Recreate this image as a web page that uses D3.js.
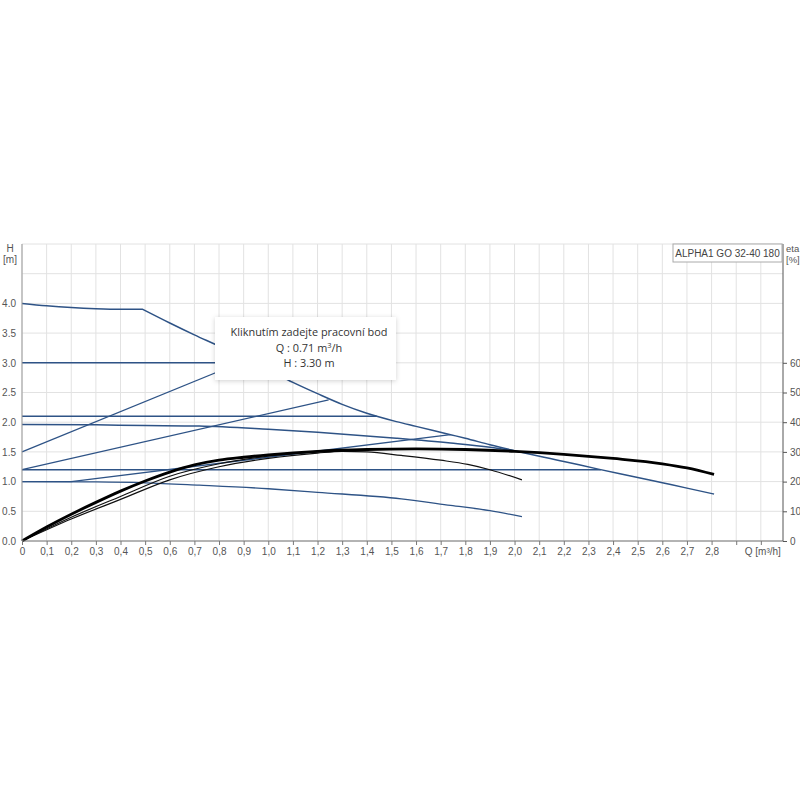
<!DOCTYPE html>
<html><head><meta charset="utf-8">
<script src="https://cdn.jsdelivr.net/npm/d3@7/dist/d3.min.js"></script>
<style>body{margin:0;background:#fff}svg{display:block}</style>
</head><body>
<svg id="c" width="800" height="800"></svg>
<script>
// ---- data (Q in m3/h, H in m, eta in %) ----
const qTicks = d3.range(0, 31).map(i => i / 10);
const hTicks = [0, 0.5, 1.0, 1.5, 2.0, 2.5, 3.0, 3.5, 4.0];
const etaTicks = [0, 10, 20, 30, 40, 50, 60];
const title = "ALPHA1 GO 32-40 180";
const tipLines = ["Kliknutím zadejte pracovní bod", "Q : 0.71 m³/h", "H : 3.30 m"];

// max curve: flat part, then falling part
const maxFlatQ = [0, 0.1, 0.2, 0.3, 0.4, 0.49];
const maxFlatH = [4.0, 3.96, 3.93, 3.91, 3.9, 3.9];
const maxFallQ = [0.49, 0.6, 0.7, 0.8, 0.9, 1.0, 1.1, 1.2, 1.3, 1.4, 1.52, 1.6, 1.74, 1.8, 1.9, 2.0, 2.2, 2.34, 2.5, 2.6, 2.7, 2.81];
const maxFallH = [3.9, 3.67, 3.47, 3.28, 3.08, 2.88, 2.67, 2.48, 2.3, 2.15, 2.01, 1.93, 1.79, 1.73, 1.62, 1.52, 1.34, 1.21, 1.07, 0.98, 0.89, 0.79];
const cc2Q = [0, 0.3, 0.5, 0.72, 1.0, 1.2, 1.52, 1.74, 1.9, 2.0];
const cc2H = [1.96, 1.955, 1.945, 1.935, 1.88, 1.83, 1.73, 1.65, 1.58, 1.52];
const cc3Q = [0, 0.3, 0.5, 0.72, 1.0, 1.2, 1.54, 1.74, 1.9, 2.03];
const cc3H = [1.0, 0.995, 0.98, 0.94, 0.88, 0.82, 0.71, 0.6, 0.51, 0.41];
const pp1Q = [0, 0.2, 1.74];
const pp1H = [1.0, 1.0, 1.79];
const pp2Q = [0, 1.245];
const pp2H = [1.2, 2.375];
const pp3Q = [0, 0.92];
const pp3H = [1.5, 3.06];
const cpH = [3.0, 2.1, 1.2];
const cpEndQ = [0.945, 1.44, 2.35];

const etaMainQ = [0, 0.1, 0.2, 0.3, 0.4, 0.5, 0.6, 0.7, 0.8, 0.9, 1.0, 1.2, 1.4, 1.6, 1.8, 2.0, 2.2, 2.4, 2.6, 2.7, 2.81];
const etaMain = [0, 4.7, 9.0, 13.0, 16.8, 20.2, 23.2, 25.6, 27.2, 28.2, 29, 30.2, 30.8, 31, 30.8, 30.2, 29.2, 27.8, 26, 24.6, 22.4];
const eta1Q = [0, 0.2, 0.4, 0.6, 0.8, 1.0, 1.2, 1.4];
const eta1 = [0, 8.0, 15.0, 21.8, 26.0, 28.6, 30, 30.8];
const eta2Q = [0, 0.2, 0.4, 0.6, 0.8, 1.0, 1.2, 1.3, 1.4, 1.54, 1.7, 1.81, 1.9, 2.03];
const eta2 = [0, 7.4, 14.0, 20.6, 25.0, 27.8, 29.6, 30.2, 30, 28.8, 27.2, 25.8, 24, 20.6];

// ---- scales ----
const svg = d3.select("#c");
const x = d3.scaleLinear().domain([0, 3.09]).range([22, 783]);
const y = d3.scaleLinear().domain([0, 5]).range([541, 244]);
const ye = d3.scaleLinear().domain([0, 100]).range([541, 244]);
const font = "'Liberation Sans', Arial, sans-serif";

// grid
const g = svg.append("g");
g.selectAll("line.v").data(qTicks).join("line")
  .attr("x1", d => x(d)).attr("x2", d => x(d)).attr("y1", y(5)).attr("y2", y(0))
  .attr("stroke", "#e2e2e2").attr("stroke-width", 1);
g.selectAll("line.h").data(d3.range(0, 11).map(i => i * 0.5)).join("line")
  .attr("x1", x(0)).attr("x2", x(3.09)).attr("y1", d => y(d)).attr("y2", d => y(d))
  .attr("stroke", "#e2e2e2").attr("stroke-width", 1);

// curves
const blue = "#2e5386";
const line = d3.line().x(d => x(d[0])).y(d => y(d[1])).curve(d3.curveMonotoneX);
const lineL = d3.line().x(d => x(d[0])).y(d => y(d[1]));
const lineE = d3.line().x(d => x(d[0])).y(d => ye(d[1])).curve(d3.curveMonotoneX);
const zip = (a, b) => a.map((v, i) => [v, b[i]]);
const cg = svg.append("g").attr("fill", "none");

cpH.forEach((h, i) => cg.append("path").attr("d", lineL([[0, h], [cpEndQ[i], h]]))
  .attr("stroke", blue).attr("stroke-width", 1.4));
[[pp1Q, pp1H], [pp2Q, pp2H], [pp3Q, pp3H]].forEach(([q, h]) =>
  cg.append("path").attr("d", lineL(zip(q, h))).attr("stroke", blue).attr("stroke-width", 1.3));
cg.append("path").attr("d", line(zip(cc3Q, cc3H))).attr("stroke", blue).attr("stroke-width", 1.3);
cg.append("path").attr("d", line(zip(cc2Q, cc2H))).attr("stroke", blue).attr("stroke-width", 1.5);
cg.append("path").attr("d", line(zip(maxFlatQ, maxFlatH)) + line(zip(maxFallQ, maxFallH)).replace(/^M/, "L"))
  .attr("stroke", blue).attr("stroke-width", 1.5).attr("stroke-linejoin", "round");

cg.append("path").attr("d", lineE(zip(eta2Q, eta2))).attr("stroke", "#111").attr("stroke-width", 1.2);
cg.append("path").attr("d", lineE(zip(eta1Q, eta1))).attr("stroke", "#111").attr("stroke-width", 1.2);
cg.append("path").attr("d", lineE(zip(etaMainQ, etaMain))).attr("stroke", "#000").attr("stroke-width", 2.8);

// axes
const ax = svg.append("g").attr("transform", `translate(0,${y(0)})`)
  .call(d3.axisBottom(x).tickValues(qTicks).tickSize(4).tickPadding(3)
    .tickFormat(d => d > 2.85 ? "" : (d === 0 ? "0" : d.toFixed(1).replace(".", ","))));
ax.select(".domain").attr("stroke", "#777").attr("d", `M${x(0)},0H${x(3.09)}`);
ax.selectAll(".tick line").attr("stroke", "#777");
ax.selectAll("text").attr("font-family", font).attr("font-size", 10).attr("fill", "#555");

const ay = svg.append("g").attr("transform", `translate(${x(0)},0)`)
  .call(d3.axisLeft(y).tickValues(hTicks).tickSize(0).tickPadding(6).tickFormat(d3.format(".1f")));
ay.select(".domain").attr("stroke", "#999").attr("d", `M0,${y(0)}V${y(5)}`);
ay.selectAll("text").attr("font-family", font).attr("font-size", 10).attr("fill", "#555");

const ar = svg.append("g").attr("transform", `translate(${x(3.09)},0)`)
  .call(d3.axisRight(ye).tickValues(etaTicks).tickSize(4).tickPadding(3));
ar.select(".domain").attr("stroke", "#555").attr("d", `M0,${ye(0)}V${ye(100)}`);
ar.selectAll(".tick line").attr("stroke", "#555");
ar.selectAll("text").attr("font-family", font).attr("font-size", 10).attr("fill", "#555");

// axis titles
const t = (tx, ty, s, anchor, fs) => svg.append("text").attr("x", tx).attr("y", ty).text(s)
  .attr("font-family", font).attr("font-size", fs || 10).attr("fill", "#555").attr("text-anchor", anchor || "start");
t(10, 252, "H", "middle");
t(10, 263, "[m]", "middle");
t(786, 252, "eta", "start", 9.5);
t(786, 263, "[%]", "start", 9.5);
t(x(3.0) + 2, 554.5, "Q [m³/h]", "middle");

// legend box
svg.append("rect").attr("x", 673).attr("y", 244).attr("width", 109).attr("height", 18)
  .attr("fill", "#fff").attr("stroke", "#aaa");
svg.append("text").attr("x", 727.5).attr("y", 257).attr("text-anchor", "middle").text(title)
  .attr("font-family", font).attr("font-size", 10).attr("fill", "#444");

// tooltip
const defs = svg.append("defs");
const f = defs.append("filter").attr("id", "sh").attr("x", "-20%").attr("y", "-30%").attr("width", "140%").attr("height", "160%");
f.append("feDropShadow").attr("dx", 0).attr("dy", 1).attr("stdDeviation", 2.5).attr("flood-color", "#000").attr("flood-opacity", 0.18);
svg.append("rect").attr("x", 215).attr("y", 317).attr("width", 181).attr("height", 63)
  .attr("fill", "#fff").attr("filter", "url(#sh)");
const tip = svg.append("text").attr("font-family", "'Open Sans', 'Noto Sans', sans-serif")
  .attr("font-size", 10.9).attr("fill", "#333").attr("text-anchor", "middle");
tipLines.forEach((s, i) => {
  const tt = tip.append("tspan").attr("x", 309).attr("y", 336 + i * 15.5);
  if (s.includes("³")) {
    const parts = s.split("³");
    tt.text(parts[0]);
    tip.append("tspan").attr("dy", -4).attr("font-size", 7.5).text("3");
    tip.append("tspan").attr("dy", 4).text(parts[1]);
  } else tt.text(s);
});
</script>
</body></html>
